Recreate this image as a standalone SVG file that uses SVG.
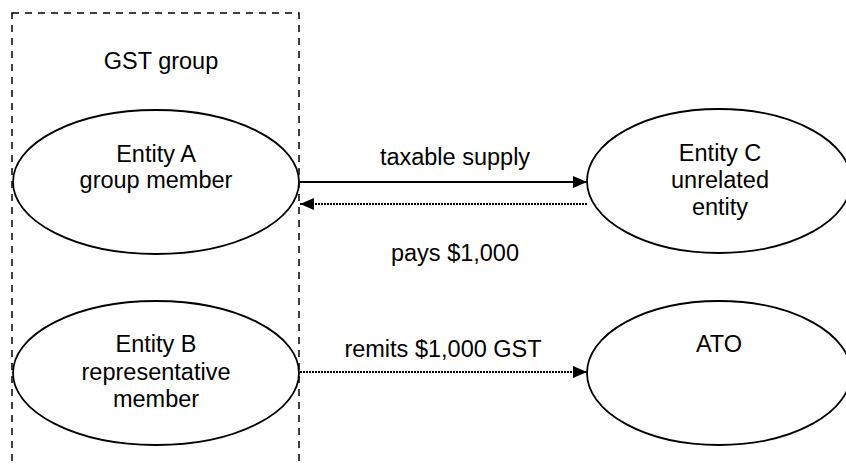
<svg xmlns="http://www.w3.org/2000/svg" width="846" height="465" viewBox="0 0 846 465">
<style>
.node ellipse{fill:#fff;stroke:#000;stroke-width:1.8}
text{font-family:"Liberation Sans",Arial,sans-serif;font-size:23.5px;fill:#000;text-anchor:middle}
.solid{stroke:#000;stroke-width:2;fill:none}
.dot{stroke:#000;stroke-width:2;fill:none;stroke-dasharray:2 1}
</style>
<defs>
<marker id="ah" markerWidth="14" markerHeight="12" refX="14" refY="6" orient="auto" markerUnits="userSpaceOnUse">
<path d="M0,0 L14,6 L0,12 Z" fill="#000"/>
</marker>
</defs>
<rect width="846" height="465" fill="#fff"/>
<g id="gst-group">
<rect x="12" y="13" width="287" height="470" fill="none" stroke="#000" stroke-width="1.5" stroke-dasharray="7 6"/>
<text x="161" y="69">GST group</text>
</g>
<g id="entity-a" class="node">
<ellipse cx="156" cy="182" rx="143" ry="72"/>
<text x="156" y="162">Entity A</text>
<text x="156" y="188">group member</text>
</g>
<g id="entity-b" class="node">
<ellipse cx="156" cy="373" rx="143" ry="72"/>
<text x="156" y="352">Entity B</text>
<text x="156" y="380">representative</text>
<text x="156" y="407">member</text>
</g>
<g id="entity-c" class="node">
<ellipse cx="719" cy="181" rx="132" ry="72"/>
<text x="720" y="161">Entity C</text>
<text x="720" y="188">unrelated</text>
<text x="720" y="215">entity</text>
</g>
<g id="ato" class="node">
<ellipse cx="719" cy="373" rx="132" ry="72"/>
<text x="719" y="352">ATO</text>
</g>
<g id="connectors">
<line class="solid" x1="300" y1="182" x2="587" y2="182" marker-end="url(#ah)"/>
<text x="455" y="165">taxable supply</text>
<line class="dot" x1="587" y1="204" x2="300" y2="204" marker-end="url(#ah)"/>
<text x="455" y="261">pays $1,000</text>
<line class="dot" x1="300" y1="372" x2="587" y2="372" marker-end="url(#ah)"/>
<text x="443" y="357">remits $1,000 GST</text>
</g>
</svg>
